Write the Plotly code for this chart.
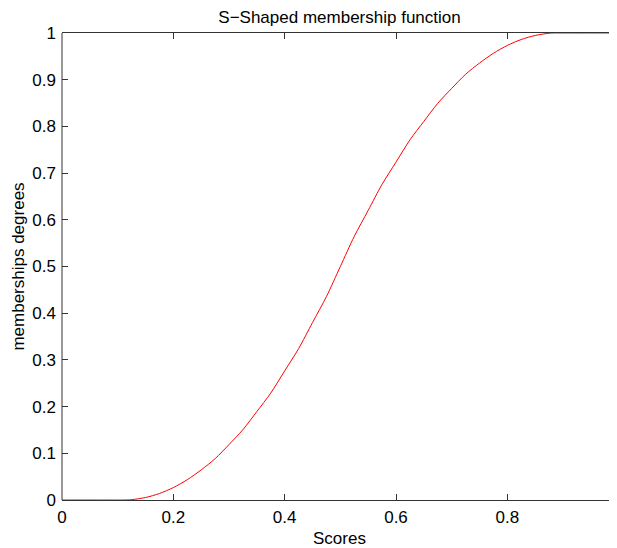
import plotly.graph_objects as go

# Values
scores = [0.0, 0.05, 0.10, 0.11, 0.125, 0.15, 0.175, 0.20, 0.225, 0.25, 0.275, 0.30,
          0.325, 0.35, 0.375, 0.40, 0.425, 0.45, 0.475, 0.50, 0.525, 0.55, 0.575,
          0.60, 0.625, 0.65, 0.675, 0.70, 0.725, 0.75, 0.775, 0.80, 0.825, 0.85,
          0.875, 0.89, 0.90, 0.95, 1.0]
degrees = [0.0, 0.0, 0.0, 0.0, 0.0007, 0.0053, 0.0139, 0.0266, 0.0435, 0.0644, 0.0884, 0.1187,
           0.1506, 0.1893, 0.2290, 0.2765, 0.3240, 0.3799, 0.4355, 0.5000, 0.5645, 0.6201, 0.6760,
           0.7235, 0.7710, 0.8107, 0.8494, 0.8813, 0.9116, 0.9356, 0.9565, 0.9734, 0.9861, 0.9947,
           0.9995, 1.0, 1.0, 1.0, 1.0]

x_ticks = [0, 0.2, 0.4, 0.6, 0.8]
x_ticklabels = ["0", "0.2", "0.4", "0.6", "0.8"]
y_ticks = [0, 0.1, 0.2, 0.3, 0.4, 0.5, 0.6, 0.7, 0.8, 0.9, 1]
y_ticklabels = ["0", "0.1", "0.2", "0.3", "0.4", "0.5", "0.6", "0.7", "0.8", "0.9", "1"]

fig = go.Figure()
fig.add_trace(go.Scatter(
    x=scores, y=degrees, mode="lines",
    line=dict(color="#ff0000", width=1, shape="spline", smoothing=0.8),
    showlegend=False, hoverinfo="skip",
))

FAM = "Liberation Sans, Arial, sans-serif"
font = dict(family=FAM, size=17, color="#000000")

# The page body adds an 8px offset, so the figure is sized to fit the 617x548 window.
W, H = 609, 540

fig.update_layout(
    width=W, height=H,
    margin=dict(l=54, r=0, t=25, b=48),
    paper_bgcolor="white", plot_bgcolor="white",
    font=font,
    title=dict(text="S\u2212Shaped membership function", x=0.5, xref="paper",
               xanchor="center", y=1 - 9 / H, yref="container", yanchor="middle",
               font=dict(family=FAM, size=17, color="#000")),
    xaxis=dict(range=[0, 0.997], tickvals=x_ticks, ticktext=x_ticklabels,
               showgrid=False, zeroline=False, showline=True, linecolor="#333333",
               linewidth=1, mirror="ticks", ticks="inside", ticklen=6,
               tickcolor="#333333", layer="below traces", automargin=False,
               tickfont=font, ticklabelstandoff=2,
               title=dict(text="Scores", standoff=6, font=font)),
    yaxis=dict(range=[0, 1], tickvals=y_ticks, ticktext=y_ticklabels,
               showgrid=False, zeroline=False, showline=False,
               mirror="ticks", ticks="inside", ticklen=6,
               tickcolor="#333333", layer="below traces", automargin=False,
               tickfont=font, ticklabelstandoff=5,
               title=dict(text="memberships degrees", standoff=3, font=font)),
    shapes=[dict(type="line", xref="paper", yref="paper", x0=0, x1=0, y0=0, y1=1,
                 line=dict(color="#333333", width=1), layer="below")],
)

fig.write_html("out.html")
